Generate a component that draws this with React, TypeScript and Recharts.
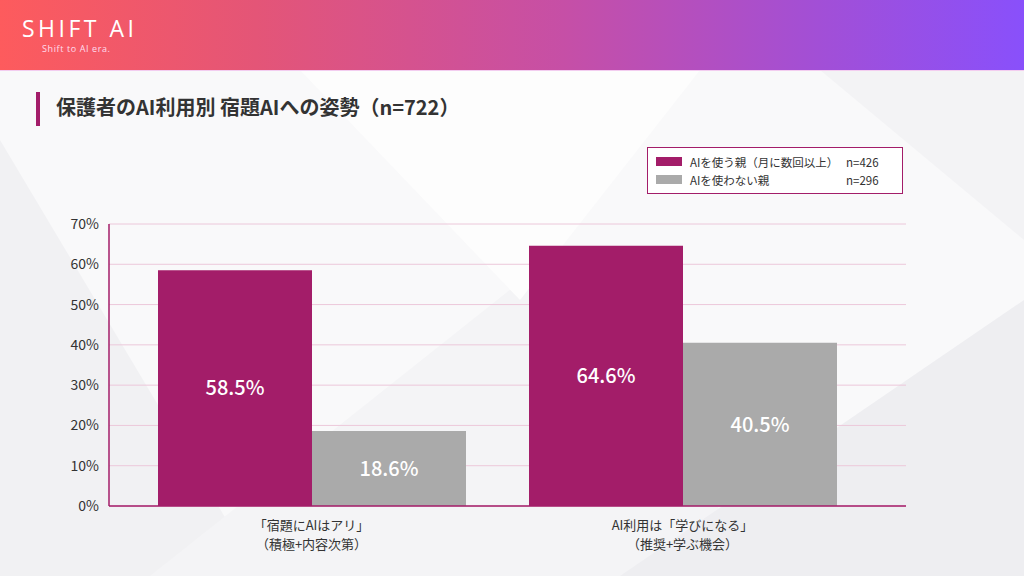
import React from "react";
import { Bar, BarChart, CartesianGrid, LabelList, XAxis, YAxis } from "recharts";

const CATEGORIES = [
  ["「宿題にAIはアリ」", "（積極+内容次第）"],
  ["AI利用は「学びになる」", "（推奨+学ぶ機会）"]
];
const USERS = [58.5, 64.6];
const NON_USERS = [18.6, 40.5];
const Y_TICKS = [0, 10, 20, 30, 40, 50, 60, 70];
const SERIES = [
  { key: "users", name: "AIを使う親（月に数回以上）", n: "n=426", color: "#a31d69" },
  { key: "nonUsers", name: "AIを使わない親", n: "n=296", color: "#aaaaaa" }
];

const data = CATEGORIES.map((lines, i) => ({
  category: lines.join("\n"),
  users: USERS[i],
  nonUsers: NON_USERS[i]
}));

const FONT = "'Noto Sans CJK JP', 'Noto Sans', sans-serif";
const ACCENT = "#a31d69";

function CategoryTick({ x, y, payload }: any) {
  const lines = String(payload.value).split("\n");
  return (
    <text x={x} y={y} textAnchor="middle" fill="#333" fontSize={13} fontFamily={FONT}>
      {lines.map((line, i) => (
        <tspan key={i} x={x} dy={i === 0 ? 16 : 19}>
          {line}
        </tspan>
      ))}
    </text>
  );
}

function LegendBox() {
  return (
    <div
      style={{
        position: "absolute",
        left: 647,
        top: 147,
        width: 256,
        height: 47,
        border: `1px solid ${ACCENT}`,
        background: "#fff",
        boxSizing: "border-box",
        padding: "5px 8px",
        fontFamily: FONT,
        fontSize: 11.5,
        color: "#333"
      }}
    >
      {SERIES.map((s) => (
        <div key={s.key} style={{ display: "flex", alignItems: "center", height: 17, marginBottom: 1 }}>
          <span style={{ width: 26, height: 9, background: s.color, marginRight: 8 }} />
          <span style={{ width: 156 }}>{s.name}</span>
          <span>{s.n}</span>
        </div>
      ))}
    </div>
  );
}

export default function App() {
  return (
    <div
      style={{
        position: "absolute",
        left: 0,
        top: 0,
        width: 1024,
        height: 576,
        overflow: "hidden",
        background: "#f9f9fa",
        fontFamily: FONT
      }}
    >
      <svg width={1024} height={576} style={{ position: "absolute", left: 0, top: 0 }}>
        <polygon points="0,140 260,576 0,576" fill="#f1f1f3" />
        <polygon points="150,576 560,250 760,576" fill="#f4f4f6" />
        <polygon points="620,576 1024,300 1024,576" fill="#eeeef1" />
        <polygon points="300,70 700,70 520,300" fill="#fdfdfd" />
        <polygon points="820,70 1024,70 1024,240" fill="#f3f3f5" />
      </svg>
      <div
        style={{
          position: "absolute",
          left: 0,
          top: 0,
          width: 1024,
          height: 70,
          background: "linear-gradient(90deg, #fd5b5d 0%, #e45577 25%, #c64fa6 55%, #a24fd6 80%, #8950fb 100%)",
          borderBottom: "1px solid #f3cdf0"
        }}
      >
        <div
          style={{
            position: "absolute",
            left: 22,
            top: 16,
            color: "#fff",
            fontFamily: "'Open Sans', sans-serif",
            fontSize: 23,
            lineHeight: "24px",
            fontWeight: 400,
            letterSpacing: 3.5
          }}
        >
          SHIFT AI
        </div>
        <div
          style={{
            position: "absolute",
            left: 42,
            top: 43,
            color: "#fde",
            fontFamily: "'Open Sans', sans-serif",
            fontSize: 9,
            lineHeight: "11px",
            letterSpacing: 0.6
          }}
        >
          Shift to AI era.
        </div>
      </div>
      <div style={{ position: "absolute", left: 36, top: 92, width: 4, height: 34, background: ACCENT }} />
      <div
        style={{
          position: "absolute",
          left: 56,
          top: 92,
          fontSize: 20,
          fontWeight: 700,
          color: "#333",
          lineHeight: "30px"
        }}
      >
        保護者のAI利用別 宿題AIへの姿勢（n=722）
      </div>
      <div style={{ position: "absolute", left: 0, top: 0 }}>
        <BarChart
          width={1024}
          height={576}
          data={data}
          margin={{ top: 224, right: 118, bottom: 30, left: 49 }}
          barCategoryGap={32}
          barGap={0}
        >
          <CartesianGrid vertical={false} stroke="#ecc8da" strokeWidth={1} />
          <XAxis
            dataKey="category"
            height={40}
            padding={{ left: 17, right: 38 }}
            axisLine={{ stroke: ACCENT, strokeWidth: 1.5 }}
            tickLine={false}
            tick={<CategoryTick />}
            interval={0}
          />
          <YAxis
            width={60}
            domain={[0, 70]}
            ticks={Y_TICKS}
            tickFormatter={(v: number) => `${v}%`}
            axisLine={{ stroke: ACCENT, strokeWidth: 1.5 }}
            tickLine={false}
            tickMargin={4}
            tick={{ fill: "#333", fontSize: 14, fontFamily: FONT }}
          />
          {SERIES.map((s) => (
            <Bar key={s.key} dataKey={s.key} name={s.name} fill={s.color} isAnimationActive={false}>
              <LabelList
                dataKey={s.key}
                position="center"
                formatter={(v: any) => `${v}%`}
                fill="#fff"
                fontSize={20}
                fontWeight={500}
                fontFamily={FONT}
              />
            </Bar>
          ))}
        </BarChart>
      </div>
      <LegendBox />
    </div>
  );
}
